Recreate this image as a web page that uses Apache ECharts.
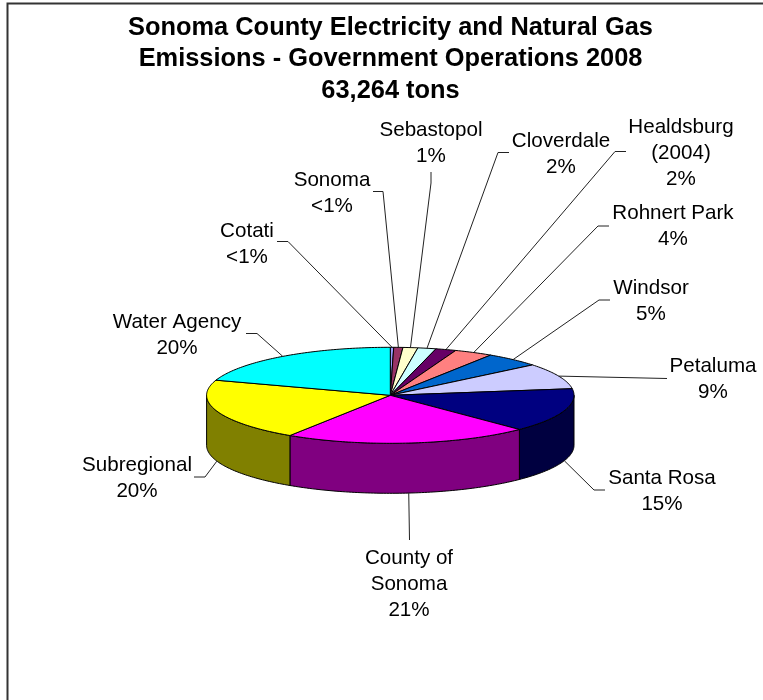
<!DOCTYPE html>
<html><head><meta charset="utf-8">
<style>html,body{margin:0;padding:0;background:#fff}#c{width:763px;height:700px}</style>
<script src="https://cdn.jsdelivr.net/npm/echarts@6/dist/echarts.min.js"></script>
</head><body><div id="c"></div>
<script>
const names = ['Cotati','Sonoma','Sebastopol','Cloverdale','Healdsburg\n(2004)','Rohnert Park','Windsor','Petaluma','Santa Rosa','County of\nSonoma','Subregional','Water Agency'];
const shares = [0.3,0.8,1.3,1.6,1.8,3.4,4.9,8.7,14.8,21.6,20.9,19.9];
const percentLabels = ['<1%','<1%','1%','2%','2%','4%','5%','9%','15%','21%','20%','20%'];
const colors = ['#9999FF','#993366','#FFFFCC','#CCFFFF','#660066','#FF8080','#0066CC','#CCCCFF','#000080','#FF00FF','#FFFF00','#00FFFF'];
const wallColors = ['#4D4D80','#4D1A33','#808066','#668080','#330033','#804040','#003366','#666680','#000040','#800080','#808000','#008080'];
const titleText = 'Sonoma County Electricity and Natural Gas\nEmissions - Government Operations 2008\n63,264 tons';
// label layout: text centre x, block centre y, leader elbow points
const labelBoxes = [[247,244],[332,193],[431,143],[561,154],[681,153],[673,226],[651,301],[713,379],[662,491],[409,584],[137,478],[177,335]];
const leaderElbows = [
  [[277,241.5],[288,241.5]],[[373,191.5],[383,191.5]],[[431,172],[431,183]],[[509,152.5],[498,152.5]],
  [[626,151.5],[615,151.5]],[[609,226],[598,226]],[[610,300],[599,300]],[[667,378.5]],
  [[605,490],[594,490]],[[409.5,540]],[[194,477],[205,477]],[[246,333.5],[257,333.5]]
];
const CX=390.3, CY=395.3, RX=183.7, RY=48, DEPTH=50;
const total = shares.reduce((a,b)=>a+b,0);
const starts = []; shares.reduce((s,v,i)=>{starts[i]=s; return s+v;},0);
const ang = f => f/total*2*Math.PI;
const pt = (a,dy)=>[CX+RX*Math.sin(a), CY-RY*Math.cos(a)+(dy||0)];
function arc(a0,a1,dy){
  const n=Math.max(2,Math.ceil((a1-a0)/(Math.PI/180)));
  const out=[]; for(let k=0;k<=n;k++) out.push(pt(a0+(a1-a0)*k/n,dy));
  return out;
}
const edge={stroke:'#000',lineWidth:1,lineJoin:'round'};
const wallSeries={type:'custom',coordinateSystem:'none',silent:true,z:2,animation:false,data:shares,
  renderItem(p,api){
    const a0=Math.max(ang(starts[p.dataIndex]),Math.PI/2);
    const a1=Math.min(ang(starts[p.dataIndex]+api.value(0)),Math.PI*1.5);
    if(a1<=a0) return null;
    const pts=arc(a0,a1,0).concat(arc(a0,a1,DEPTH).reverse());
    return {type:'polygon',shape:{points:pts},style:Object.assign({fill:wallColors[p.dataIndex]},edge)};
  }};
const topSeries={type:'custom',coordinateSystem:'none',silent:true,z:3,animation:false,data:shares,
  renderItem(p,api){
    const a0=ang(starts[p.dataIndex]), a1=ang(starts[p.dataIndex]+api.value(0));
    const pts=[[CX,CY]].concat(arc(a0,a1,0));
    return {type:'polygon',shape:{points:pts},style:Object.assign({fill:colors[p.dataIndex]},edge)};
  }};
const labelSeries={type:'custom',coordinateSystem:'none',silent:true,z:4,animation:false,data:shares,
  renderItem(p,api){
    const i=p.dataIndex, mid=ang(starts[i]+api.value(0)/2);
    const front=Math.cos(mid)<0;
    const end=pt(mid,front?DEPTH:0);
    return {type:'group',children:[
      {type:'polyline',shape:{points:leaderElbows[i].concat([end])},style:{stroke:'#222',lineWidth:1,fill:null}},
      {type:'text',style:{text:names[i]+'\n'+percentLabels[i],x:labelBoxes[i][0],y:labelBoxes[i][1],align:'center',verticalAlign:'middle',
        fontFamily:'"Liberation Sans",Arial,sans-serif',fontSize:20.6,lineHeight:26,fill:'#000'}}
    ]};
  }};
const chart=echarts.init(document.getElementById('c'),null,{renderer:'canvas'});
chart.setOption({
  animation:false,backgroundColor:'#fff',
  title:{text:titleText,left:390.5,top:12,padding:0,textAlign:'center',
    textStyle:{fontFamily:'"Liberation Sans",Arial,sans-serif',fontWeight:'bold',fontSize:25.4,lineHeight:31.5,color:'#000'}},
  graphic:[{type:'polyline',shape:{points:[[7.5,700],[7.5,3.5],[763,3.5]]},style:{stroke:'#333',lineWidth:2,fill:null},z:1}],
  series:[wallSeries,topSeries,labelSeries]
});
</script></body></html>
